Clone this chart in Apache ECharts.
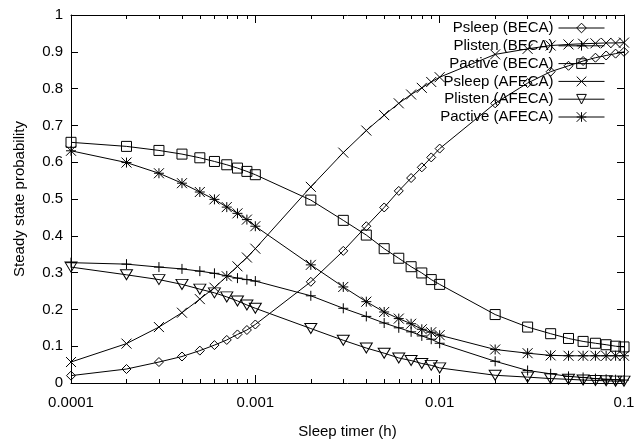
<!DOCTYPE html>
<html>
<head>
<meta charset="utf-8">
<script src="https://cdn.jsdelivr.net/npm/echarts@6/dist/echarts.min.js"></script>
<style>
html, body { margin: 0; padding: 0; background: #fff; }
#chart { width: 640px; height: 444px; }
</style>
</head>
<body>
<div id="chart"></div>
<script>
// sleep timer (h)
const sleepTimer = [
    0.0001, 0.0002, 0.0003, 0.0004, 0.0005, 0.0006, 0.0007, 0.0008, 0.0009,
    0.001, 0.002, 0.003, 0.004, 0.005, 0.006, 0.007, 0.008, 0.009,
    0.01, 0.02, 0.03, 0.04, 0.05, 0.06, 0.07, 0.08, 0.09, 0.1
];
const xMajorTicks = [0.0001, 0.001, 0.01, 0.1];
const xMinorTicks = [
    0.0002, 0.0003, 0.0004, 0.0005, 0.0006, 0.0007, 0.0008, 0.0009,
    0.002, 0.003, 0.004, 0.005, 0.006, 0.007, 0.008, 0.009,
    0.02, 0.03, 0.04, 0.05, 0.06, 0.07, 0.08, 0.09
];

const psleepBECA = [
    0.020, 0.038, 0.057, 0.072, 0.088, 0.103, 0.117, 0.132, 0.144,
    0.159, 0.275, 0.359, 0.426, 0.477, 0.522, 0.557, 0.586, 0.613,
    0.637, 0.760, 0.815, 0.846, 0.862, 0.875, 0.884, 0.890, 0.895, 0.900
];
const plistenBECA = [
    0.327, 0.323, 0.315, 0.310, 0.304, 0.298, 0.291, 0.285, 0.281,
    0.277, 0.237, 0.203, 0.181, 0.163, 0.150, 0.139, 0.128, 0.119,
    0.108, 0.059, 0.034, 0.025, 0.018, 0.015, 0.012, 0.010, 0.009, 0.008
];
const pactiveBECA = [
    0.654, 0.643, 0.632, 0.622, 0.612, 0.602, 0.593, 0.584, 0.575,
    0.566, 0.497, 0.442, 0.402, 0.365, 0.339, 0.316, 0.299, 0.281,
    0.268, 0.186, 0.152, 0.134, 0.121, 0.113, 0.108, 0.104, 0.100, 0.098
];
const psleepAFECA = [
    0.057, 0.107, 0.152, 0.191, 0.228, 0.259, 0.290, 0.317, 0.341,
    0.365, 0.533, 0.626, 0.686, 0.728, 0.760, 0.784, 0.802, 0.818,
    0.831, 0.893, 0.908, 0.917, 0.920, 0.922, 0.923, 0.924, 0.924, 0.925
];
const plistenAFECA = [
    0.315, 0.294, 0.281, 0.268, 0.255, 0.245, 0.234, 0.223, 0.212,
    0.203, 0.148, 0.116, 0.095, 0.081, 0.068, 0.061, 0.053, 0.048,
    0.041, 0.021, 0.016, 0.012, 0.010, 0.008, 0.007, 0.006, 0.005, 0.005
];
const pactiveAFECA = [
    0.631, 0.599, 0.570, 0.543, 0.519, 0.499, 0.478, 0.461, 0.444,
    0.426, 0.321, 0.261, 0.221, 0.193, 0.175, 0.161, 0.146, 0.138,
    0.130, 0.091, 0.081, 0.075, 0.074, 0.074, 0.074, 0.074, 0.074, 0.074
];

const FONT = '"Liberation Sans", Arial, Helvetica, sans-serif';

// gnuplot style open point types
const SYM = {
    diamond: 'path://M5,0L10,5L5,10L0,5Z',
    plus: 'path://M5,0L5,10M0,5L10,5',
    square: 'path://M0,0L10,0L10,10L0,10Z',
    cross: 'path://M0,0L10,10M10,0L0,10',
    triDown: 'path://M0,0L12,0L6,10Z',
    star: 'path://M5,0L5,10M0,5L10,5M0,0L10,10M10,0L0,10'
};

function mkSeries(name, values, symbol, size) {
    return {
        name: name,
        type: 'line',
        data: sleepTimer.map((x, i) => [x, values[i]]),
        symbol: symbol,
        symbolSize: size,
        showAllSymbol: true,
        lineStyle: { color: '#000', width: 1 },
        itemStyle: { color: 'rgba(0,0,0,0)', borderColor: '#000', borderWidth: 1 },
        emphasis: { disabled: true }
    };
}

function xAxisCfg(pos, major) {
    return {
        type: 'log',
        logBase: 10,
        min: 0.0001,
        max: 0.1,
        position: pos,
        axisLine: { show: major, onZero: false, lineStyle: { color: '#000', width: 1 } },
        axisTick: {
            show: true,
            inside: true,
            length: major ? 8 : 4,
            customValues: major ? xMajorTicks : xMinorTicks,
            lineStyle: { color: '#000' }
        },
        axisLabel: {
            show: major && pos === 'bottom',
            customValues: xMajorTicks,
            color: '#000',
            fontFamily: FONT,
            fontSize: 15,
            margin: 12,
            formatter: v => String(+(+v).toPrecision(1))
        },
        splitLine: { show: false },
        minorTick: { show: false },
        name: (major && pos === 'bottom') ? 'Sleep timer (h)' : '',
        nameLocation: 'middle',
        nameGap: 41,
        nameTextStyle: { color: '#000', fontFamily: FONT, fontSize: 15 }
    };
}

const myChart = echarts.init(document.getElementById('chart'), null, { renderer: 'canvas' });
const option = {
    animation: false,
    backgroundColor: '#fff',
    grid: { left: 71, right: 16, top: 15, bottom: 55, containLabel: false },
    legend: {
        orient: 'vertical',
        right: 30,
        top: 15,
        align: 'right',
        itemWidth: 46,
        itemHeight: 12,
        itemGap: 1.8,
        itemStyle: { color: 'rgba(0,0,0,0)', borderColor: '#000', borderWidth: 1 },
        lineStyle: { color: '#000', width: 1 },
        textStyle: { color: '#000', fontFamily: FONT, fontSize: 15, lineHeight: 16 },
        data: ['Psleep (BECA)', 'Plisten (BECA)', 'Pactive (BECA)',
               'Psleep (AFECA)', 'Plisten (AFECA)', 'Pactive (AFECA)']
    },
    xAxis: [
        xAxisCfg('bottom', true),
        xAxisCfg('bottom', false),
        xAxisCfg('top', true),
        xAxisCfg('top', false)
    ],
    yAxis: [
        {
            type: 'value',
            min: 0,
            max: 1,
            interval: 0.1,
            position: 'left',
            axisLine: { show: true, lineStyle: { color: '#000', width: 1 } },
            axisTick: { show: true, inside: true, length: 7, lineStyle: { color: '#000' } },
            axisLabel: { color: '#000', fontFamily: FONT, fontSize: 15, margin: 8 },
            splitLine: { show: false },
            name: 'Steady state probability',
            nameLocation: 'middle',
            nameGap: 44,
            nameTextStyle: { color: '#000', fontFamily: FONT, fontSize: 15 }
        },
        {
            type: 'value',
            min: 0,
            max: 1,
            interval: 0.1,
            position: 'right',
            axisLine: { show: true, lineStyle: { color: '#000', width: 1 } },
            axisTick: { show: true, inside: true, length: 7, lineStyle: { color: '#000' } },
            axisLabel: { show: false },
            splitLine: { show: false }
        }
    ],
    series: [
        mkSeries('Psleep (BECA)', psleepBECA, SYM.diamond, 9),
        mkSeries('Plisten (BECA)', plistenBECA, SYM.plus, 10),
        mkSeries('Pactive (BECA)', pactiveBECA, SYM.square, 10),
        mkSeries('Psleep (AFECA)', psleepAFECA, SYM.cross, 10),
        mkSeries('Plisten (AFECA)', plistenAFECA, SYM.triDown, [12, 10]),
        mkSeries('Pactive (AFECA)', pactiveAFECA, SYM.star, 10)
    ]
};
option && myChart.setOption(option);
window.addEventListener('resize', () => {
    myChart.resize();
});
</script>
</body>
</html>
